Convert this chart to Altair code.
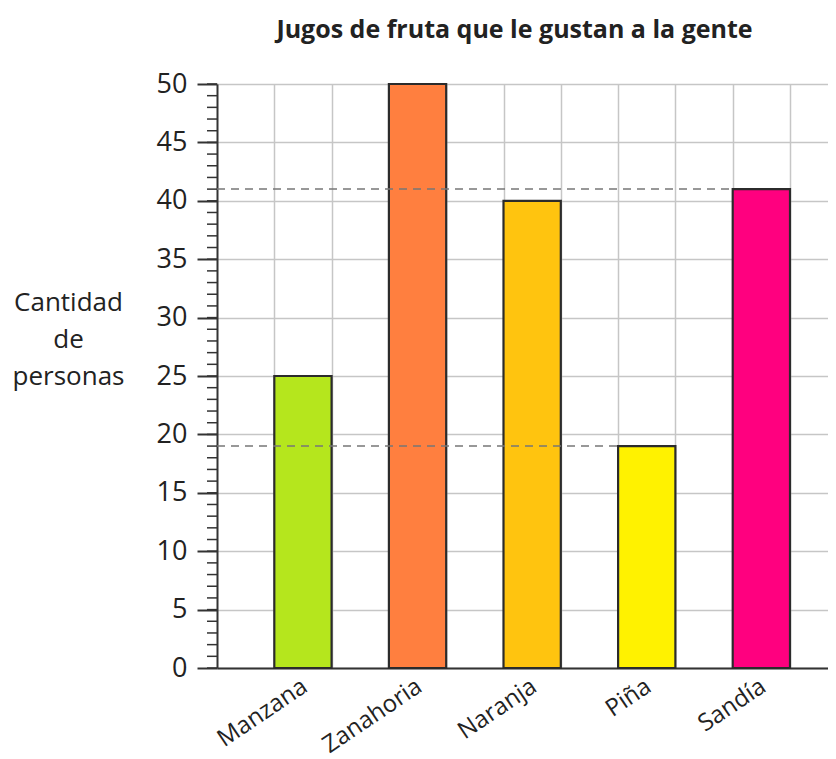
import altair as alt
import pandas as pd

categories = ["Manzana", "Zanahoria", "Naranja", "Piña", "Sandía"]
values = [25, 50, 40, 19, 41]
colors = ["#b5e61d", "#ff7f3f", "#ffc40f", "#fff200", "#ff007f"]
y_ticks = [0, 5, 10, 15, 20, 25, 30, 35, 40, 45, 50]
minor_ticks = list(range(0, 51))
grid_x = list(range(1, 11))
guide_cats = ["Piña", "Sandía"]

FONT = "Open Sans"
CELL = 57.3
W, H = 611, 584

df = pd.DataFrame({"cat": categories, "value": values, "color": colors})
df["x0"] = [2 * i + 1 for i in range(len(categories))]
df["x1"] = df["x0"] + 1
df["base"] = 0

guides = df[df["cat"].isin(guide_cats)].copy()
guides["zero"] = 0

minor = pd.DataFrame({"v": minor_ticks})

xscale = alt.Scale(domain=[0, W / CELL], nice=False, zero=False, padding=0)
yscale = alt.Scale(domain=[0, 50], nice=False, padding=0)

expr = "''"
for i, c in reversed(list(enumerate(categories))):
    expr = f"datum.value == {2*i+1} ? '{c}' : ({expr})"

x_axis = alt.Axis(
    values=grid_x, grid=True, gridColor="#c6c6c6", gridWidth=1.5,
    ticks=False, tickSize=0, labelExpr=expr, labelOffset=CELL / 2 - 5,
    labelAngle=-34, labelAlign="right", labelBaseline="top", labelPadding=6,
    labelFontSize=24, labelFont=FONT, labelColor="#222", labelOverlap=False,
    labelFlush=False, labelBound=False,
    domainColor="#333", domainWidth=2, title=None,
)

y_axis = alt.Axis(
    values=y_ticks, grid=True, gridColor="#c6c6c6", gridWidth=1.5,
    tickSize=20, tickWidth=2, tickColor="#333", labelPadding=10,
    labelFontSize=27, labelFont=FONT, labelColor="#222",
    domainColor="#333", domainWidth=2,
    title=["Cantidad", "de", "personas"], titleAngle=0, titleX=-149, titleY=218,
    titleAlign="center", titleBaseline="middle", titleFontSize=26,
    titleFont=FONT, titleFontWeight="normal", titleLineHeight=37, titleColor="#222",
)

bars = alt.Chart(df).mark_bar(stroke="#2b2b2b", strokeWidth=2.2).encode(
    x=alt.X("x0:Q", scale=xscale, axis=x_axis),
    x2="x1:Q",
    y=alt.Y("value:Q", scale=yscale, axis=y_axis),
    y2="base:Q",
    color=alt.Color("color:N", scale=None),
)

dashes = alt.Chart(guides).mark_rule(strokeDash=[8, 6], color="#777", strokeWidth=1.5).encode(
    x=alt.X("zero:Q", scale=xscale),
    x2="x0:Q",
    y=alt.Y("value:Q", scale=yscale),
)

minor_rules = alt.Chart(minor).mark_rule(color="#333", strokeWidth=1.5).encode(
    y=alt.Y("v:Q", scale=yscale),
    x=alt.value(-10),
    x2=alt.value(0),
)

chart = alt.layer(bars, dashes, minor_rules).properties(
    width=W, height=H,
    autosize=alt.AutoSizeParams(type="none"),
    padding={"left": 209, "top": 76, "right": 0, "bottom": 91},
    title=alt.TitleParams(
        "Jugos de fruta que le gustan a la gente", fontSize=25, font=FONT,
        fontWeight="bold", anchor="middle", offset=27, dx=-8, color="#222",
    ),
).configure_view(stroke=None)

chart.save("out.html", embed_options={"renderer": "svg", "actions": False})
